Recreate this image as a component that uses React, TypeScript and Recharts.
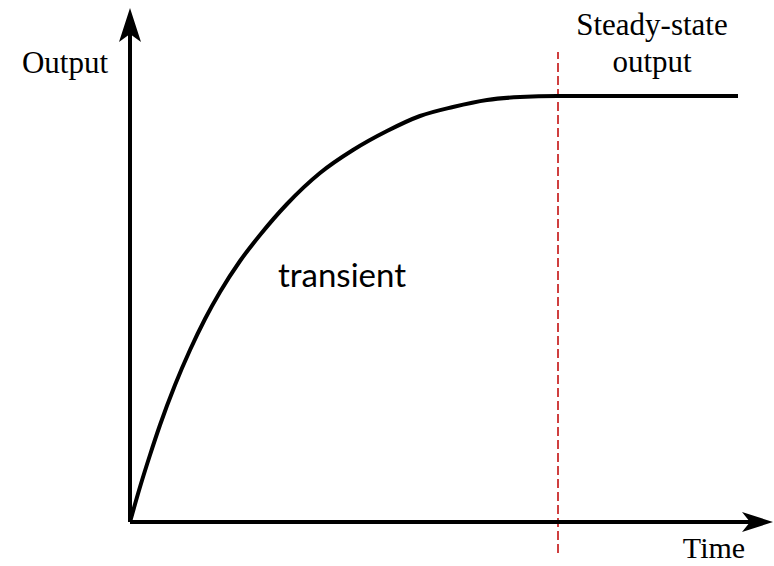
import React from "react";
import {
  LineChart,
  Line,
  XAxis,
  YAxis,
  ReferenceLine,
  ReferenceDot,
  Customized,
} from "recharts";

// time (px units from origin) and output values
const times = [0, 10, 20, 30, 45, 60, 75, 90, 110, 130, 157, 190, 223, 257, 290, 323, 357, 390, 427, 608];
const outputs = [0, 35, 67, 97, 137, 172, 203, 230, 261, 287, 318, 349, 372, 391, 406, 415, 422, 425, 426, 426];

const steadyTime = 428;
const xMax = 644;
const yMax = 514;
const axisLabels = { y: "Output", x: "Time" };
const regionLabels = { transient: "transient", steady: ["Steady-state", "output"] };

const data = times.map((t, i) => ({ t, v: outputs[i] }));

const SERIF = "'Liberation Serif', 'DejaVu Serif', serif";

const RightArrow = (props: any) => {
  const { cx, cy } = props;
  return (
    <path
      d={`M${cx},${cy} L${cx - 31},${cy - 10} L${cx - 23},${cy} L${cx - 31},${cy + 10} Z`}
      fill="#000"
    />
  );
};

const UpArrow = (props: any) => {
  const { cx, cy } = props;
  return (
    <path
      d={`M${cx},${cy} L${cx - 11},${cy + 34} L${cx},${cy + 26} L${cx + 11},${cy + 34} Z`}
      fill="#000"
    />
  );
};

const Labels = (props: any) => {
  return (
    <g>
      <text x={65} y={73} fontFamily={SERIF} fontSize={31} fill="#000" textAnchor="middle">
        {axisLabels.y}
      </text>
      <text x={714} y={558} fontFamily={SERIF} fontSize={30} fill="#000" textAnchor="middle">
        {axisLabels.x}
      </text>
      <text x={652} y={35} fontFamily={SERIF} fontSize={31} fill="#000" textAnchor="middle">
        {regionLabels.steady[0]}
      </text>
      <text x={652} y={72} fontFamily={SERIF} fontSize={31} fill="#000" textAnchor="middle">
        {regionLabels.steady[1]}
      </text>
      <text
        x={342}
        y={287}
        fontFamily="Lato, 'Open Sans', sans-serif"
        fontSize={33}
        fill="#000"
        textAnchor="middle"
      >
        {regionLabels.transient}
      </text>
    </g>
  );
};

export default function App() {
  return (
    <div style={{ position: "absolute", left: 0, top: 0, width: 774, height: 566, background: "#fff" }}>
      <LineChart
        width={774}
        height={566}
        data={data}
        margin={{ top: 8, left: 130, right: 0, bottom: 44 }}
      >
        <XAxis type="number" dataKey="t" domain={[0, xMax]} hide />
        <YAxis type="number" domain={[0, yMax]} hide />
        <ReferenceLine
          segment={[
            { x: steadyTime, y: -31 },
            { x: steadyTime, y: 470 },
          ]}
          stroke="#c00000"
          strokeWidth={1.5}
          strokeDasharray="9 4"
          ifOverflow="visible"
        />
        <ReferenceLine
          segment={[
            { x: 0, y: 0 },
            { x: 625, y: 0 },
          ]}
          stroke="#000"
          strokeWidth={4}
          ifOverflow="visible"
        />
        <ReferenceLine
          segment={[
            { x: 0, y: 0 },
            { x: 0, y: 490 },
          ]}
          stroke="#000"
          strokeWidth={4}
          ifOverflow="visible"
        />
        <ReferenceDot x={xMax - 1} y={0} r={0} shape={RightArrow} ifOverflow="visible" />
        <ReferenceDot x={0} y={yMax} r={0} shape={UpArrow} ifOverflow="visible" />
        <Line
          type="monotone"
          dataKey="v"
          stroke="#000"
          strokeWidth={4}
          dot={false}
          isAnimationActive={false}
        />
        <Customized component={Labels} />
      </LineChart>
    </div>
  );
}
